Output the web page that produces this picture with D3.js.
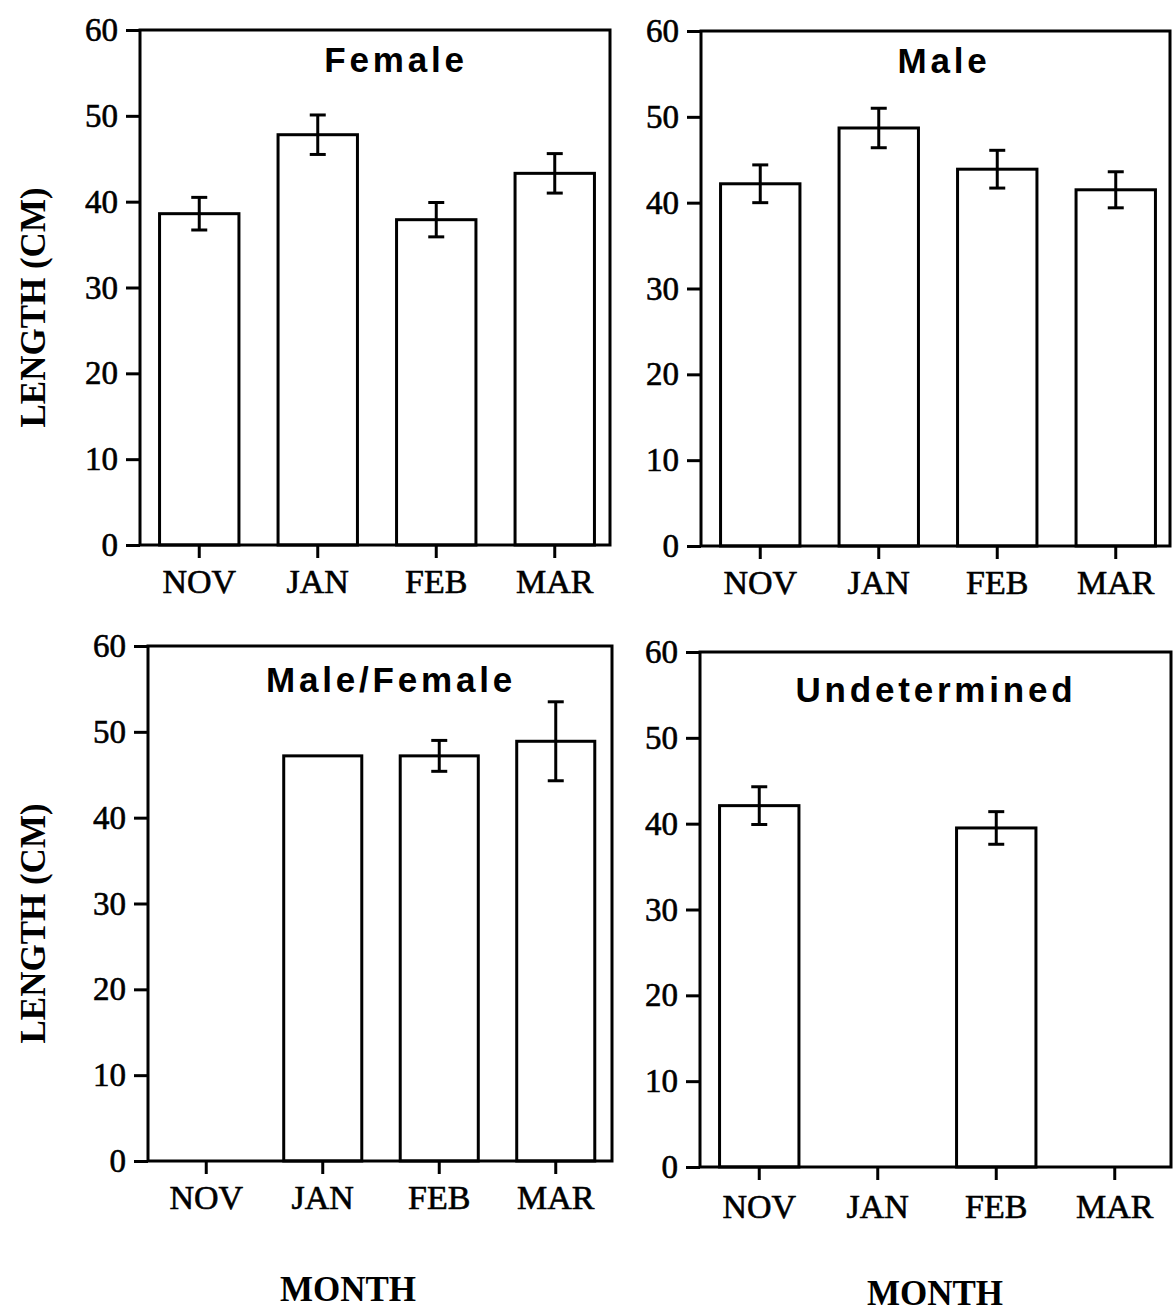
<!DOCTYPE html>
<html>
<head>
<meta charset="utf-8">
<script src="https://cdn.jsdelivr.net/npm/d3@7"></script>
<style>
  body { margin: 0; background: #fff; }
  svg { display: block; }
</style>
</head>
<body>
<script>
// Data =======================================================================

const months = ["NOV", "JAN", "FEB", "MAR"];
const yTicks = [0, 10, 20, 30, 40, 50, 60];

const femaleMean = [38.6, 47.8, 37.9, 43.3];
const femaleErr = [1.9, 2.3, 2.0, 2.3];

const maleMean = [42.2, 48.7, 43.9, 41.5];
const maleErr = [2.2, 2.3, 2.2, 2.1];

const mixedMean = [null, 47.2, 47.2, 48.9];
const mixedErr = [null, 0, 1.8, 4.6];

const undetMean = [42.1, null, 39.5, null];
const undetErr = [2.2, null, 1.9, null];

// Layout =====================================================================

const H = 515;
const serif = "'Liberation Serif', 'Times New Roman', serif";

// w = frame width, span = width taken by the 4 month bands
const panels = [
  { title: "Female", mean: femaleMean, err: femaleErr, left: 140, top: 30, w: 470, span: 474, titleX: 396, titleY: 72, yTitle: true },
  { title: "Male", mean: maleMean, err: maleErr, left: 701, top: 31, w: 469, span: 474, titleX: 944, titleY: 73 },
  { title: "Male/Female", mean: mixedMean, err: mixedErr, left: 148, top: 646, w: 464, span: 466, titleX: 391, titleY: 692, yTitle: true, month: [348, 1301] },
  { title: "Undetermined", mean: undetMean, err: undetErr, left: 700, top: 652, w: 471, span: 474, titleX: 936, titleY: 702, month: [935, 1305], xLabelDy: 51 }
];

const svg = d3.select("body")
  .append("svg")
  .attr("width", 1174)
  .attr("height", 1312);

const y = d3.scaleLinear()
  .domain([0, 60])
  .range([H, 0]);

panels.forEach(p => {
  const g = svg.append("g").attr("transform", `translate(${p.left},${p.top})`);

  const x = d3.scaleBand()
    .domain(months)
    .range([0, p.span])
    .paddingInner(0.33)
    .paddingOuter(0.165);

  const rows = months.map((m, i) => ({ m, v: p.mean[i], e: p.err[i] }))
    .filter(d => d.v != null);

  // bars
  g.selectAll("rect.bar")
    .data(rows)
    .enter()
    .append("rect")
    .attr("class", "bar")
    .attr("x", d => x(d.m))
    .attr("y", d => y(d.v))
    .attr("width", x.bandwidth())
    .attr("height", d => H - y(d.v))
    .attr("fill", "#fff")
    .attr("stroke", "#000")
    .attr("stroke-width", 3);

  // error bars
  const cx = d => x(d.m) + x.bandwidth() / 2;
  const eb = g.selectAll("g.err")
    .data(rows.filter(d => d.e > 0))
    .enter()
    .append("g")
    .attr("class", "err")
    .attr("stroke", "#000")
    .attr("stroke-width", 3);

  eb.append("line")
    .attr("x1", cx)
    .attr("x2", cx)
    .attr("y1", d => y(d.v + d.e))
    .attr("y2", d => y(d.v - d.e));
  eb.append("line")
    .attr("x1", d => cx(d) - 8)
    .attr("x2", d => cx(d) + 8)
    .attr("y1", d => y(d.v + d.e))
    .attr("y2", d => y(d.v + d.e));
  eb.append("line")
    .attr("x1", d => cx(d) - 8)
    .attr("x2", d => cx(d) + 8)
    .attr("y1", d => y(d.v - d.e))
    .attr("y2", d => y(d.v - d.e));

  // frame
  g.append("rect")
    .attr("width", p.w)
    .attr("height", H)
    .attr("fill", "none")
    .attr("stroke", "#000")
    .attr("stroke-width", 3);

  // axes
  const ya = g.append("g")
    .call(d3.axisLeft(y).tickValues(yTicks).tickSize(14).tickSizeOuter(0).tickPadding(8));
  const xa = g.append("g")
    .attr("transform", `translate(0,${H})`)
    .call(d3.axisBottom(x).tickSize(13).tickSizeOuter(0).tickPadding(0));

  [ya, xa].forEach(a => {
    a.select(".domain").remove();
    a.selectAll("line").attr("stroke", "#000").attr("stroke-width", 3);
    a.selectAll("text")
      .attr("fill", "#000")
      .attr("stroke", "#000")
      .attr("stroke-width", 0.6)
      .style("font-family", serif);
  });
  ya.selectAll("text").style("font-size", "33px");
  xa.selectAll("text")
    .style("font-size", "34px")
    .attr("dy", null)
    .attr("y", p.xLabelDy || 48);

  // title
  g.append("text")
    .attr("x", p.titleX - p.left)
    .attr("y", p.titleY - p.top)
    .attr("text-anchor", "middle")
    .style("font-family", "'Liberation Sans', Arial, sans-serif")
    .style("font-weight", "bold")
    .style("font-size", "35px")
    .style("letter-spacing", "3.8px")
    .text(p.title);

  if (p.yTitle) {
    svg.append("text")
      .attr("transform", `translate(45,${p.top + H / 2 + 20}) rotate(-90)`)
      .attr("text-anchor", "middle")
      .style("font-family", serif)
      .style("font-weight", "bold")
      .style("font-size", "35px")
      .text("LENGTH (CM)");
  }

  if (p.month) {
    svg.append("text")
      .attr("x", p.month[0])
      .attr("y", p.month[1])
      .attr("text-anchor", "middle")
      .style("font-family", serif)
      .style("font-weight", "bold")
      .style("font-size", "35px")
      .text("MONTH");
  }
});
</script>
</body>
</html>
